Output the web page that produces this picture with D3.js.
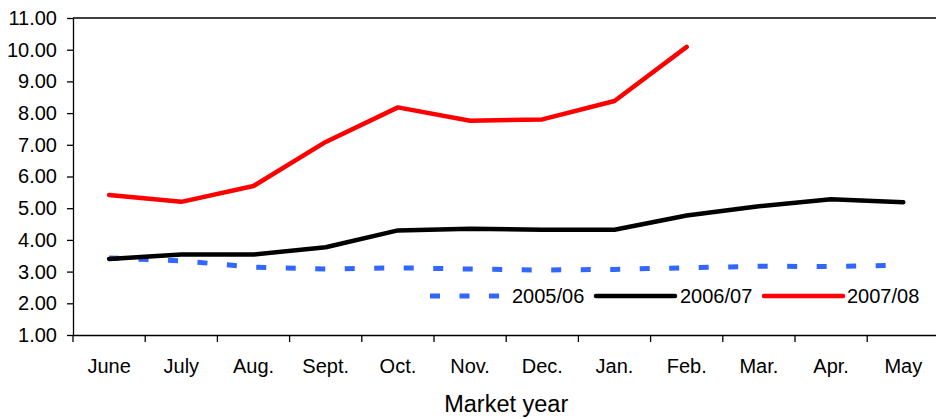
<!DOCTYPE html>
<html>
<head>
<meta charset="utf-8">
<script src="https://cdn.jsdelivr.net/npm/d3@7"></script>
<style>
  html, body { margin: 0; padding: 0; background: #fff; }
  svg { display: block; font-family: "Liberation Sans", Arial, sans-serif; }
</style>
</head>
<body>
<div id="chart"></div>
<script>
// ── Data ────────────────────────────────────────────────────
const months = ["June", "July", "Aug.", "Sept.", "Oct.", "Nov.", "Dec.",
                "Jan.", "Feb.", "Mar.", "Apr.", "May"];

const yTicks = [1, 2, 3, 4, 5, 6, 7, 8, 9, 10, 11];

const seriesNames = ["2005/06", "2006/07", "2007/08"];

const values0506 = [3.43, 3.34, 3.14, 3.08, 3.12, 3.08, 3.05, 3.07, 3.12, 3.17, 3.16, 3.20];
const values0607 = [3.40, 3.54, 3.54, 3.77, 4.30, 4.35, 4.32, 4.32, 4.77, 5.06, 5.28, 5.19];
const values0708 = [5.42, 5.20, 5.70, 7.09, 8.18, 7.76, 7.80, 8.38, 10.09];

// ── Layout ──────────────────────────────────────────────────
const W = 936, H = 419;
const plotLeft = 73, plotTop = 18, plotBottom = 335, plotRight = 939.4;

const svg = d3.select("#chart").append("svg")
  .attr("width", W).attr("height", H);

const x = d3.scaleBand().domain(months).range([plotLeft, plotRight]);
const y = d3.scaleLinear().domain([1, 11]).range([plotBottom, plotTop]);

// top frame line
svg.append("line")
  .attr("x1", plotLeft).attr("x2", plotRight)
  .attr("y1", plotTop).attr("y2", plotTop)
  .attr("stroke", "#000").attr("stroke-width", 1.3);

// ── Y axis ──────────────────────────────────────────────────
const yAxis = svg.append("g")
  .attr("transform", `translate(${plotLeft},0)`)
  .call(d3.axisLeft(y).tickValues(yTicks).tickFormat(d3.format(".2f"))
          .tickSize(6).tickPadding(10).tickSizeOuter(0));
yAxis.select(".domain").attr("stroke-width", 1.3);
yAxis.selectAll(".tick line").attr("stroke-width", 1.3);
yAxis.selectAll("text").attr("font-size", "20px").attr("fill", "#000")
  .attr("font-family", "'Liberation Sans', Arial, sans-serif");

// ── X axis ──────────────────────────────────────────────────
const xAxis = svg.append("g")
  .attr("transform", `translate(0,${plotBottom})`)
  .call(d3.axisBottom(x).tickSize(0).tickPadding(24).tickSizeOuter(0));
xAxis.select(".domain").attr("stroke-width", 1.3);
xAxis.selectAll("text").attr("font-size", "20px").attr("fill", "#000")
  .attr("font-family", "'Liberation Sans', Arial, sans-serif");

// tick marks on category boundaries
xAxis.selectAll("line.bound")
  .data(months.concat(["_end"]))
  .enter().append("line")
  .attr("class", "bound")
  .attr("x1", (d, i) => i < months.length ? x(d) : plotRight)
  .attr("x2", (d, i) => i < months.length ? x(d) : plotRight)
  .attr("y1", 0).attr("y2", 7)
  .attr("stroke", "#000").attr("stroke-width", 1.3);

svg.append("text")
  .attr("x", (plotLeft + plotRight) / 2).attr("y", 412)
  .attr("text-anchor", "middle")
  .attr("font-size", "23.5px")
  .text("Market year");

// ── Lines ───────────────────────────────────────────────────
const line = d3.line()
  .x((d, i) => x(months[i]) + x.bandwidth() / 2)
  .y(d => y(d));

const styles = [
  { color: "#3366ff", width: 5,   dash: "10,19.5", cap: "butt" },
  { color: "#000000", width: 4.5, dash: null,      cap: "round" },
  { color: "#ff0000", width: 4.5, dash: null,      cap: "round" }
];

[values0506, values0607, values0708].forEach((vals, k) => {
  svg.append("path")
    .datum(vals)
    .attr("d", line)
    .attr("fill", "none")
    .attr("stroke", styles[k].color)
    .attr("stroke-width", styles[k].width)
    .attr("stroke-linecap", styles[k].cap)
    .attr("stroke-linejoin", "round")
    .attr("stroke-dasharray", styles[k].dash);
});

// ── Legend ──────────────────────────────────────────────────
const legendY = 296;
const legendItems = [
  { x1: 430, x2: 499, tx: 512 },
  { x1: 596, x2: 675, tx: 680 },
  { x1: 764, x2: 843, tx: 847 }
];

const lg = svg.append("g").attr("class", "legend");
legendItems.forEach((it, k) => {
  lg.append("line")
    .attr("x1", it.x1).attr("x2", it.x2)
    .attr("y1", legendY).attr("y2", legendY)
    .attr("stroke", styles[k].color)
    .attr("stroke-width", styles[k].width)
    .attr("stroke-linecap", styles[k].cap)
    .attr("stroke-dasharray", styles[k].dash);
  lg.append("text")
    .attr("x", it.tx).attr("y", legendY)
    .attr("dy", "0.36em")
    .attr("font-size", "20px")
    .text(seriesNames[k]);
});
</script>
</body>
</html>
